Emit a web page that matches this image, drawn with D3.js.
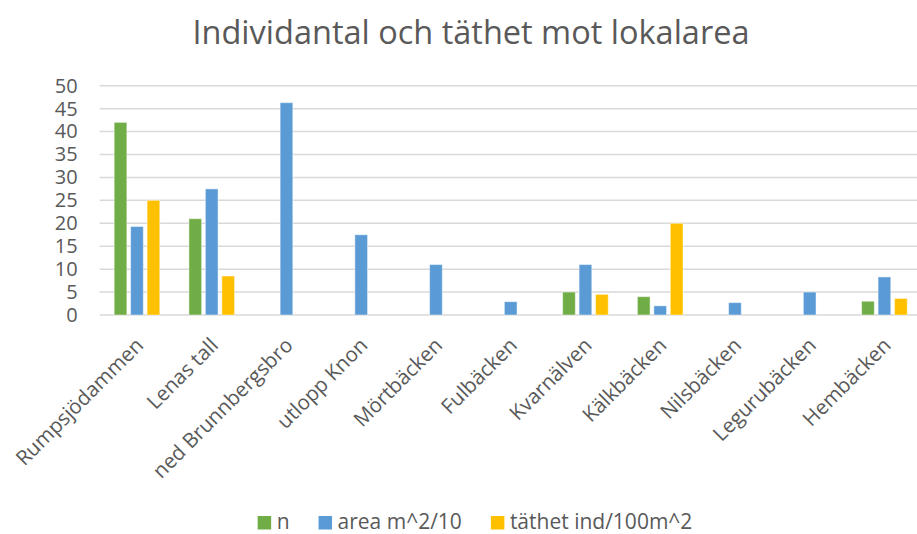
<!DOCTYPE html>
<html>
<head>
<meta charset="utf-8">
<script src="https://cdn.jsdelivr.net/npm/d3@7"></script>
<style>
  body { margin: 0; background: #fff; }
  text { font-family: "Open Sans", sans-serif; fill: #595959; }
</style>
</head>
<body>
<div id="chart"></div>
<script>
const width = 917;
const height = 534;

// data
const categories = [
    "Rumpsjödammen", "Lenas tall", "ned Brunnbergsbro", "utlopp Knon", "Mörtbäcken",
    "Fulbäcken", "Kvarnälven", "Kälkbäcken", "Nilsbäcken", "Legurubäcken", "Hembäcken"
];
const seriesNames = ["n", "area m^2/10", "täthet ind/100m^2"];
const nValues     = [42, 21, 0, 0, 0, 0, 5, 4, 0, 0, 3];
const areaValues  = [19.3, 27.5, 46.3, 17.5, 11, 2.9, 11, 2, 2.7, 5, 8.3];
const tathetValues = [25, 8.5, 0, 0, 0, 0, 4.5, 20, 0, 0, 3.6];
const yTicks = [0, 5, 10, 15, 20, 25, 30, 35, 40, 45, 50];
const colors = ["#70ad47", "#5b9bd5", "#ffc000"];

const seriesValues = [nValues, areaValues, tathetValues];

const svg = d3.select("#chart")
    .append("svg")
    .attr("width", width)
    .attr("height", height);

const plot = { left: 99.6, right: 921.8, top: 85.7, bottom: 315 };

const x = d3.scaleBand()
    .domain(categories)
    .range([plot.left, plot.right])
    .paddingInner(0.39)
    .paddingOuter(0.195);

const xSub = d3.scaleBand()
    .domain(seriesNames)
    .range([0, x.bandwidth()])
    .paddingInner(0.23);

const y = d3.scaleLinear()
    .domain([0, 50])
    .range([plot.bottom, plot.top]);

// title
svg.append("text")
    .attr("x", 471)
    .attr("y", 44)
    .attr("text-anchor", "middle")
    .style("font-size", "32.5px")
    .text("Individantal och täthet mot lokalarea");

// gridlines
svg.append("g")
    .selectAll("line")
    .data(yTicks)
    .join("line")
    .attr("x1", plot.left)
    .attr("x2", plot.right)
    .attr("y1", d => y(d))
    .attr("y2", d => y(d))
    .attr("stroke", "#d9d9d9")
    .attr("stroke-width", 1.5);

// y axis labels
const yAxis = svg.append("g")
    .attr("transform", `translate(${plot.left},0)`)
    .call(d3.axisLeft(y).tickValues(yTicks).tickSize(0).tickPadding(22));
yAxis.select(".domain").remove();
yAxis.selectAll("text")
    .style("font-size", "20px")
    .style("font-family", "Open Sans, sans-serif")
    .attr("fill", "#595959");

// bars
const rows = categories.map((c, i) => ({
    cat: c,
    vals: seriesNames.map((s, j) => ({ s, v: seriesValues[j][i], c: colors[j] }))
}));

const groups = svg.append("g")
    .selectAll("g")
    .data(rows)
    .join("g")
    .attr("transform", d => `translate(${x(d.cat)},0)`);

groups.selectAll("rect")
    .data(d => d.vals.filter(e => e.v > 0))
    .join("rect")
    .attr("x", d => xSub(d.s))
    .attr("width", xSub.bandwidth())
    .attr("y", d => y(d.v))
    .attr("height", d => y(0) - y(d.v))
    .attr("fill", d => d.c)
    .attr("stroke", "#ffffff")
    .attr("stroke-opacity", 0.45)
    .attr("stroke-width", 1);

// category labels, rotated
svg.append("g")
    .selectAll("text")
    .data(categories)
    .join("text")
    .attr("transform", d => `translate(${x(d) + x.bandwidth() / 2 + 3},342) rotate(-45)`)
    .attr("text-anchor", "end")
    .attr("dy", "0.32em")
    .style("font-size", "20.5px")
    .text(d => d);

// legend
const legend = svg.append("g");
let lx = 0;
seriesNames.forEach((name, i) => {
    const item = legend.append("g").attr("transform", `translate(${lx},0)`);
    item.append("rect")
        .attr("x", 0)
        .attr("y", 516)
        .attr("width", 13.5)
        .attr("height", 13.5)
        .attr("fill", colors[i]);
    const t = item.append("text")
        .attr("x", 19)
        .attr("y", 529)
        .style("font-size", "21px")
        .text(name);
    lx += 19 + t.node().getComputedTextLength() + 29;
});
const legendWidth = lx - 29;
legend.attr("transform", `translate(${475 - legendWidth / 2},0)`);
</script>
</body>
</html>
